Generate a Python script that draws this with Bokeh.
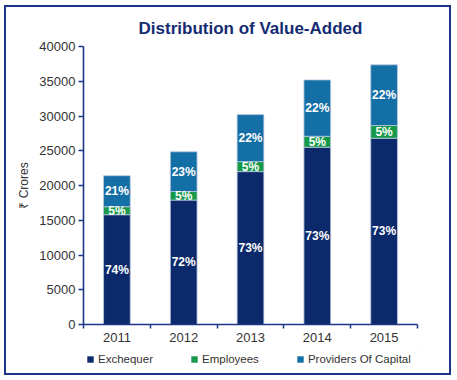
from bokeh.plotting import figure
from bokeh.models import ColumnDataSource, FixedTicker, Legend, LegendItem
from bokeh.layouts import column
from bokeh.core.properties import value
from bokeh.embed import file_html
from bokeh.resources import INLINE
import numpy as np

# ---- data ----
years = [2011, 2012, 2013, 2014, 2015]
exchequer = [15800, 17900, 22000, 25500, 26800]
employees = [1150, 1240, 1440, 1580, 1830]
providers = [4460, 5710, 6760, 8110, 8730]
exchequer_pct = ["74%", "72%", "73%", "73%", "73%"]
employees_pct = ["5%", "5%", "5%", "5%", "5%"]
providers_pct = ["21%", "23%", "22%", "22%", "22%"]
series_names = ["Exchequer", "Employees", "Providers Of Capital"]
y_ticks = [0, 5000, 10000, 15000, 20000, 25000, 30000, 35000, 40000]

NAVY = "#0c2a6b"
GREEN = "#17994a"
BLUE = "#146fa6"
AXIS = "#1c3587"
FONT = "Liberation Sans"

ex = np.array(exchequer, dtype=float)
em = np.array(employees, dtype=float)
pr = np.array(providers, dtype=float)

src = ColumnDataSource(dict(
    x=years,
    ex_top=ex, em_bot=ex, em_top=ex + em, pr_bot=ex + em, pr_top=ex + em + pr,
    ex_mid=ex / 2, em_mid=ex + em / 2, pr_mid=ex + em + pr / 2,
    ex_lab=exchequer_pct, em_lab=employees_pct, pr_lab=providers_pct,
))

p = figure(width=443, height=342, output_backend="svg", toolbar_location=None,
           x_range=(2010.5, 2015.5), y_range=(0, 40000),
           title="Distribution of Value-Added",
           min_border_left=77, min_border_right=32, min_border_top=39, min_border_bottom=25)
p.outline_line_color = None
p.xgrid.grid_line_color = None
p.ygrid.grid_line_color = None
p.background_fill_color = "white"

p.title.text_font = FONT
p.title.text_font_size = "17px"
p.title.text_color = "#142c72"
p.title.text_font_style = "bold"
p.title.align = "center"
p.title.standoff = 18

line_kw = dict(line_color="#b9c8e0", line_width=0.8)
r1 = p.vbar(x="x", bottom=0, top="ex_top", width=0.4, fill_color=NAVY, source=src, **line_kw)
r2 = p.vbar(x="x", bottom="em_bot", top="em_top", width=0.4, fill_color=GREEN, source=src, **line_kw)
r3 = p.vbar(x="x", bottom="pr_bot", top="pr_top", width=0.4, fill_color=BLUE, source=src, **line_kw)

for ycol, tcol in [("ex_mid", "ex_lab"), ("em_mid", "em_lab"), ("pr_mid", "pr_lab")]:
    p.text(x="x", y=ycol, text=tcol, source=src, text_align="center", text_baseline="middle",
           text_color="white", text_font=value(FONT), text_font_style="bold",
           text_font_size="12px")

# axes
for ax in (p.xaxis[0], p.yaxis[0]):
    ax.axis_line_color = AXIS
    ax.axis_line_width = 1.6
    ax.major_label_text_font = FONT
    ax.major_label_text_font_size = "13px"
    ax.major_label_text_color = "#333333"

p.yaxis.ticker = FixedTicker(ticks=y_ticks)
p.yaxis.major_tick_line_color = AXIS
p.yaxis.major_tick_line_width = 1.5
p.yaxis.major_tick_in = 0
p.yaxis.major_tick_out = 5
p.yaxis.minor_tick_line_color = None
p.yaxis.axis_label = "₹ Crores"
p.yaxis.axis_label_text_font = FONT
p.yaxis.axis_label_text_font_style = "normal"
p.yaxis.axis_label_text_font_size = "12px"
p.yaxis.axis_label_text_color = "#333333"
p.yaxis.axis_label_standoff = 5
p.yaxis.major_label_standoff = 3

p.xaxis.ticker = FixedTicker(ticks=years, minor_ticks=[y - 0.5 for y in years] + [years[-1] + 0.5])
p.xaxis.major_label_overrides = {y: str(y) for y in years}
p.xaxis.major_tick_line_color = None
p.xaxis.major_tick_out = 4
p.xaxis.major_tick_in = 0
p.xaxis.minor_tick_line_color = AXIS
p.xaxis.minor_tick_line_width = 1.5
p.xaxis.minor_tick_in = 0
p.xaxis.minor_tick_out = 4
p.xaxis.major_label_standoff = 4

# ---- legend strip (separate small figure so the legend is not clipped) ----
lg = figure(width=443, height=24, output_backend="svg", toolbar_location=None,
            x_range=(0, 1), y_range=(0, 1), min_border=0,
            x_axis_location=None, y_axis_location=None)
lg.outline_line_color = None
lg.grid.visible = False
colors = [NAVY, GREEN, BLUE]
# legend swatches only; the single point sits outside the visible range
dummies = [lg.vbar(x=[5], bottom=[4], top=[5], width=0.4, fill_color=c, line_color=None)
           for c in colors]
legend = Legend(items=[LegendItem(label=n, renderers=[r]) for n, r in zip(series_names, dummies)],
                orientation="horizontal", location=(3, 8),
                glyph_width=8, glyph_height=8, label_standoff=4, spacing=37,
                label_text_font=FONT, label_text_font_size="11.5px", label_text_color="#333333",
                border_line_color=None, background_fill_alpha=0, padding=0, margin=0)
lg.add_layout(legend)

layout = column(p, lg, spacing=0,
                styles={"border": "2px solid #1c3587", "margin": "5px 0 0 4px"})

open("out.html", "w").write(file_html(layout, INLINE))
